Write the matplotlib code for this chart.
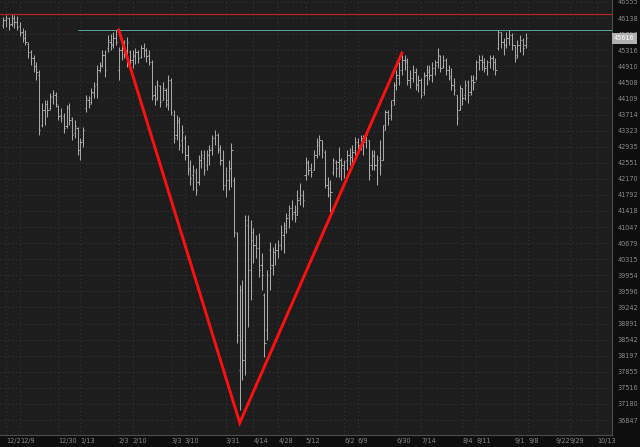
import numpy as np
import pandas as pd
import matplotlib
matplotlib.use("Agg")
import matplotlib.pyplot as plt
from matplotlib.ticker import NullLocator

# Trading calendar (US market holidays removed)
holidays = ['2024-12-25', '2025-01-01', '2025-01-09', '2025-01-20', '2025-02-17',
            '2025-04-18', '2025-05-26', '2025-06-19', '2025-07-04', '2025-09-01']
session_days = pd.bdate_range('2024-11-29', '2025-10-24')
session_days = session_days[~session_days.isin(pd.to_datetime(holidays))]

# Daily OHLC, 2024-11-29 .. 2025-09-05
highs = [46166, 46218, 46166, 46244, 46218, 46192, 46037, 45883, 45831, 45525,
         45321, 45195, 45018, 44817, 43997, 44071, 44071, 44244, 44318, 44269,
         43948, 43874, 43752, 43948, 43997, 43654, 43581, 43411, 43145, 43411,
         44195, 44170, 44368, 44518, 44943, 45018, 45321, 45321, 45704, 45729,
         45780, 45831, 45398, 45525, 45576, 45653, 45321, 45321, 45372, 45321,
         45449, 45500, 45372, 45321, 45068, 44443, 44567, 44443, 44518, 44368,
         44692, 44617, 43825, 43703, 43654, 43460, 43217, 42976, 42617, 42498,
         42426, 42736, 42855, 42855, 42855, 42976, 43217, 43338, 43266, 42976,
         42855, 42450, 42617, 43024, 42213, 40934, 39738, 39849, 41325, 41325,
         41209, 41026, 40866, 40911, 40456, 39561, 40072, 40706, 40592, 40683,
         40751, 41094, 41163, 41371, 41557, 41673, 41557, 41907, 42072, 41907,
         42688, 42617, 42545, 42855, 43145, 43217, 43096, 42855, 42213, 42142,
         42664, 42617, 42928, 42664, 42617, 42855, 42904, 42976, 43169, 43145,
         43217, 43217, 43290, 43096, 42855, 42855, 42736, 43096, 43460, 43825,
         43825, 44071, 44518, 44817, 45018, 45195, 45195, 45119, 44817, 44943,
         44867, 44692, 44617, 44767, 44943, 44943, 45018, 45068, 45372, 45195,
         45195, 45119, 44943, 44867, 44617, 44195, 44443, 44368, 44567, 44567,
         44692, 44692, 45068, 45195, 45195, 45119, 45068, 45195, 45195, 45119,
         45831, 45780, 45627, 45780, 45831, 45755, 45449, 45576, 45704, 45627,
         45755]
lows = [45883, 45908, 45831, 45934, 45883, 45831, 45678, 45525, 45449, 45119,
        44943, 44767, 44567, 43217, 43411, 43460, 43654, 43825, 43973, 43899,
        43581, 43532, 43266, 43387, 43460, 43096, 43145, 42736, 42617, 42928,
        43776, 43874, 43973, 44120, 44120, 44767, 44892, 44642, 45270, 45321,
        45372, 45449, 44567, 45068, 45119, 44892, 44817, 44867, 44968, 44993,
        45119, 45144, 45018, 44943, 44071, 43948, 44071, 43899, 44071, 43899,
        43825, 43703, 43024, 43096, 42855, 42783, 42617, 42260, 42025, 41907,
        41790, 42025, 42426, 42260, 42378, 42498, 42736, 42976, 42783, 42498,
        41907, 41743, 41907, 41978, 40820, 38469, 37054, 37681, 37787, 38815,
        39406, 40230, 40343, 39916, 39627, 38169, 38533, 39627, 39961, 40185,
        40343, 40524, 40456, 40911, 41026, 41209, 41163, 41325, 41557, 41511,
        42142, 42260, 42213, 42378, 42664, 42736, 42664, 41954, 41743, 41395,
        42260, 42213, 42213, 42142, 42189, 42378, 42498, 42545, 42736, 42855,
        42855, 42736, 42904, 42142, 42378, 42378, 42025, 42260, 42617, 43338,
        43460, 43581, 43948, 44318, 44443, 44692, 44817, 44443, 44368, 44518,
        44318, 44269, 44120, 44195, 44443, 44567, 44518, 44692, 44867, 44767,
        44867, 44692, 44567, 44318, 44195, 43460, 43825, 43948, 44071, 43997,
        44195, 44318, 44567, 44817, 44817, 44767, 44692, 44867, 44817, 44692,
        45321, 45372, 45195, 45372, 45449, 45321, 45018, 45119, 45270, 45195,
        45372]
opens = [45960, 46089, 46140, 45986, 46140, 46037, 45934, 45780, 45627, 45474,
         45270, 45119, 44917, 44692, 43460, 43825, 43973, 43874, 44145, 44195,
         43923, 43703, 43679, 43435, 43923, 43630, 43266, 43387, 42855, 43096,
         43874, 44071, 44022, 44244, 44468, 44817, 44943, 45195, 45372, 45525,
         45474, 45627, 44817, 45321, 45423, 45321, 45270, 45068, 45169, 45270,
         45144, 45372, 45321, 45195, 45018, 44195, 44120, 44418, 44071, 44318,
         44071, 44567, 43703, 43217, 43532, 43096, 43145, 42736, 42426, 42260,
         42331, 42095, 42617, 42664, 42498, 42736, 42904, 43145, 43217, 42904,
         42617, 42025, 42142, 42426, 42142, 40911, 37892, 39627, 38212, 41094,
         40072, 40934, 40638, 40570, 40185, 39517, 38750, 40524, 40185, 40479,
         40524, 40638, 40866, 41094, 41325, 41488, 41395, 41325, 41720, 41790,
         42260, 42545, 42426, 42378, 42736, 42976, 43096, 42807, 42025, 41790,
         42331, 42569, 42569, 42617, 42426, 42617, 42736, 42688, 42855, 43048,
         42976, 43145, 43096, 43096, 42498, 42712, 42498, 42664, 42617, 43460,
         43776, 43703, 44071, 44443, 44617, 44817, 45068, 45068, 44567, 44617,
         44767, 44468, 44567, 44269, 44692, 44767, 44692, 44867, 45018, 45169,
         44917, 45068, 44817, 44667, 44443, 44195, 43825, 44368, 44195, 44518,
         44269, 44567, 44617, 45018, 45068, 45018, 44917, 45018, 45119, 45018,
         45372, 45780, 45525, 45449, 45627, 45704, 45449, 45195, 45449, 45576,
         45449]
closes = [46089, 46140, 45960, 46140, 46037, 45908, 45755, 45627, 45525, 45270,
          45119, 44917, 44767, 43338, 43825, 43973, 43825, 44170, 44244, 43973,
          43679, 43630, 43387, 43874, 43581, 43217, 43435, 42855, 43048, 43338,
          44120, 43973, 44269, 44418, 44817, 44917, 45195, 44817, 45576, 45449,
          45627, 45525, 45321, 45449, 45270, 45525, 45018, 45195, 45270, 45119,
          45372, 45321, 45169, 45018, 44170, 44071, 44443, 44022, 44368, 43973,
          44567, 43776, 43145, 43581, 42976, 43290, 42736, 42378, 42189, 42378,
          41907, 42617, 42736, 42378, 42736, 42855, 43145, 43217, 42855, 42617,
          42025, 42142, 42426, 42855, 40934, 38641, 38533, 38105, 41209, 40072,
          40751, 40638, 40570, 40072, 39961, 38469, 39961, 40117, 40479, 40524,
          40638, 40934, 41026, 41255, 41488, 41348, 41255, 41673, 41790, 41673,
          42569, 42378, 42331, 42736, 43048, 43096, 42855, 42025, 41954, 41860,
          42617, 42426, 42617, 42498, 42569, 42736, 42688, 42807, 43048, 42976,
          43145, 43048, 43217, 42260, 42736, 42498, 42617, 42498, 43338, 43776,
          43630, 43948, 44443, 44692, 44817, 45068, 45018, 44567, 44617, 44817,
          44443, 44567, 44195, 44667, 44817, 44692, 44867, 44943, 45195, 44867,
          45068, 44817, 44617, 44443, 44318, 43630, 44368, 44120, 44443, 44195,
          44567, 44518, 45018, 45068, 45018, 44867, 45018, 45119, 45018, 44817,
          45780, 45525, 45449, 45627, 45704, 45449, 45119, 45449, 45576, 45372,
          45616]

# Price axis labels
y_ticks = [46555, 46138, 45727, 45316, 44910, 44508, 44109, 43714, 43323, 42935,
           42551, 42170, 41792, 41418, 41047, 40679, 40315, 39954, 39596, 39242,
           38891, 38542, 38197, 37855, 37516, 37180, 36847]
# Date axis labels
x_tick_dates = ['2024-12-02', '2024-12-09', '2024-12-30', '2025-01-13', '2025-02-03',
                '2025-02-10', '2025-03-03', '2025-03-10', '2025-03-31', '2025-04-14',
                '2025-04-28', '2025-05-12', '2025-06-02', '2025-06-09', '2025-06-30',
                '2025-07-14', '2025-08-04', '2025-08-11', '2025-09-01', '2025-09-08',
                '2025-09-22', '2025-09-29', '2025-10-13']
x_tick_labels = ['12/2', '12/9', '12/30', '1/13', '2/3', '2/10', '3/3', '3/10', '3/31',
                 '4/14', '4/28', '5/12', '6/2', '6/9', '6/30', '7/14', '8/4', '8/11',
                 '9/1', '9/8', '9/22', '9/29', '10/13']

# Annotations: horizontal levels and the hand-drawn "V"
ath_level = 46244
resistance_level = 45844
resistance_start = '2025-01-10'
v_dates = ['2025-02-03', '2025-04-07', '2025-07-02']
v_prices = [45830, 36790, 45245]
last_price = 45616


def day_pos(d):
    # position of the last session on or before the date
    return int(session_days.searchsorted(pd.Timestamp(d), side='right')) - 1


x = np.arange(len(closes))

fig = plt.figure(figsize=(6.4, 4.47), dpi=100, facecolor='#0e0e0e')
ax = fig.add_axes([0, 12 / 447, 612 / 640, 435 / 447])
ax.set_facecolor('#1d1d1d')

bar_color = '#a8a8a8'
ax.vlines(x, lows, highs, color=bar_color, lw=0.75, zorder=3)
ax.hlines(opens, x - 0.45, x, color=bar_color, lw=0.75, zorder=3)
ax.hlines(closes, x, x + 0.45, color=bar_color, lw=0.75, zorder=3)

ax.set_xlim(-1.2, 221.4)
ax.set_yscale('log')
ax.set_ylim(36540, 46607)

# levels
ax.axhline(ath_level, color='#b82020', lw=0.9, zorder=4)
ax.hlines(resistance_level, day_pos(resistance_start), 221.4, color='#5aa8a6', lw=0.7, zorder=4)

# red V
v_x = [day_pos(d) for d in v_dates]
ax.plot(v_x, v_prices, color='#ff1010', lw=2.1, solid_joinstyle='miter', zorder=5)

# axes styling
ax.yaxis.tick_right()
ax.set_yticks(y_ticks)
ax.set_yticklabels([str(v) for v in y_ticks])
ax.yaxis.set_minor_locator(NullLocator())
ax.set_xticks([day_pos(d) for d in x_tick_dates])
ax.set_xticklabels(x_tick_labels)
for lbl in ax.get_xticklabels():
    lbl.set_ha('left')
ax.tick_params(axis='both', length=0, labelsize=4.7, labelcolor='#8a8a8a')
ax.tick_params(axis='y', pad=4)
ax.tick_params(axis='x', pad=2.5)

ax.grid(True, color='#3a3a3a', linestyle=(0, (1, 3)), linewidth=0.7)
ax.set_axisbelow(True)

for side in ['left', 'top']:
    ax.spines[side].set_visible(False)
for side in ['right', 'bottom']:
    ax.spines[side].set_color('#4c4c4c')
    ax.spines[side].set_linewidth(0.8)

# last price box
ax.text(1.003, last_price, str(last_price), transform=ax.get_yaxis_transform(),
        fontsize=4.7, color='white', va='center', ha='left', clip_on=False, zorder=10,
        bbox=dict(boxstyle='square,pad=0.35', fc='#b0b0b0', ec='none'))

fig.savefig('out.png', dpi=100, facecolor=fig.get_facecolor())
